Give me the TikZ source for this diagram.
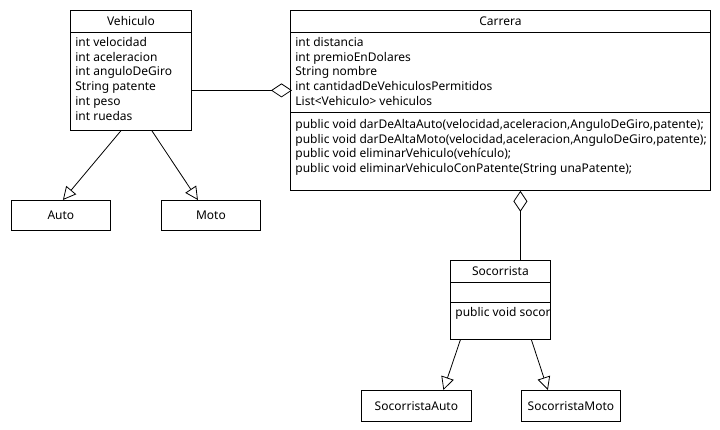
\documentclass[tikz,border=0pt]{standalone}
\usepackage{fontspec}
\setmainfont{Noto Sans}
\usetikzlibrary{arrows.meta}
\usetikzlibrary{calc}

\tikzset{
  umlbox/.style={draw, anchor=north west, inner sep=0pt},
  member/.style={anchor=north west, align=left, inner sep=0pt},
  inherit/.style={-{Triangle[open, length=13pt, width=13pt]}},
  aggreg/.style={{Diamond[open, length=21pt, width=14pt]}-}
}

\begin{document}
\begin{tikzpicture}[x=1pt, y=-1pt, line width=0.8pt, font=\fontsize{12}{14.7}\selectfont]
    \useasboundingbox (0,0) rectangle (720,430);

    % Vehiculo class
    \node[umlbox, minimum width=121pt, minimum height=120pt] (vehiculo) at (70,10) {};
    \node (vehiculoname) at ([yshift=-11pt]vehiculo.north) {Vehiculo};
    \draw ([yshift=-22pt]vehiculo.north west) -- ([yshift=-22pt]vehiculo.north east);
    \node[member] (vehiculoattr) at (75,37) {int velocidad\\int aceleracion\\int anguloDeGiro\\String patente\\int peso\\int ruedas};

    % Carrera class
    \node[umlbox, minimum width=420pt, minimum height=180pt] (carrera) at (290,10) {};
    \node (carreraname) at ([yshift=-11pt]carrera.north) {Carrera};
    \draw ([yshift=-22pt]carrera.north west) -- ([yshift=-22pt]carrera.north east);
    \node[member] (carreraattr) at (295,37) {int distancia\\int premioEnDolares\\String nombre\\int cantidadDeVehiculosPermitidos\\List<Vehiculo> vehiculos};
    \draw ([yshift=-102pt]carrera.north west) -- ([yshift=-102pt]carrera.north east);
    \node[member] (carrerametodos) at (295,119) {public void darDeAltaAuto(velocidad,aceleracion,AnguloDeGiro,patente);\\public void darDeAltaMoto(velocidad,aceleracion,AnguloDeGiro,patente);\\public void eliminarVehiculo(vehículo);\\public void eliminarVehiculoConPatente(String unaPatente);};

    % Subclasses of Vehiculo
    \node[umlbox, minimum width=99pt, minimum height=30pt] (auto) at (11,200) {Auto};
    \node[umlbox, minimum width=99pt, minimum height=30pt] (moto) at (161,200) {Moto};

    % Socorrista class
    \node[umlbox, minimum width=100pt, minimum height=79pt] (socorrista) at (450,260) {};
    \node (socorristaname) at ([yshift=-11pt]socorrista.north) {Socorrista};
    \draw ([yshift=-22pt]socorrista.north west) -- ([yshift=-22pt]socorrista.north east);
    \draw ([yshift=-42pt]socorrista.north west) -- ([yshift=-42pt]socorrista.north east);
    \node[member] (socorristametodos) at (455,307) {public void socor};

    % Subclasses of Socorrista
    \node[umlbox, minimum width=110pt, minimum height=31pt] (socorristaauto) at (361,390) {SocorristaAuto};
    \node[umlbox, minimum width=99pt, minimum height=31pt] (socorristamoto) at (521,390) {SocorristaMoto};

    % Aggregations
    \draw[aggreg] ([yshift=10pt, xshift=2pt]carrera.west) -- ([yshift=-20pt]vehiculo.east);
    \draw[aggreg] ([xshift=20pt]carrera.south) -- ([xshift=20pt]socorrista.north);

    % Inheritance
    \draw[inherit] ([xshift=-10pt]vehiculo.south) -- ([xshift=2pt]auto.north);
    \draw[inherit] ([xshift=21pt]vehiculo.south) -- ([xshift=-13pt]moto.north);
    \draw[inherit] ([xshift=-40pt]socorrista.south) -- ([xshift=27pt]socorristaauto.north);
    \draw[inherit] ([xshift=31pt]socorrista.south) -- ([xshift=-23pt]socorristamoto.north);
\end{tikzpicture}
\end{document}
